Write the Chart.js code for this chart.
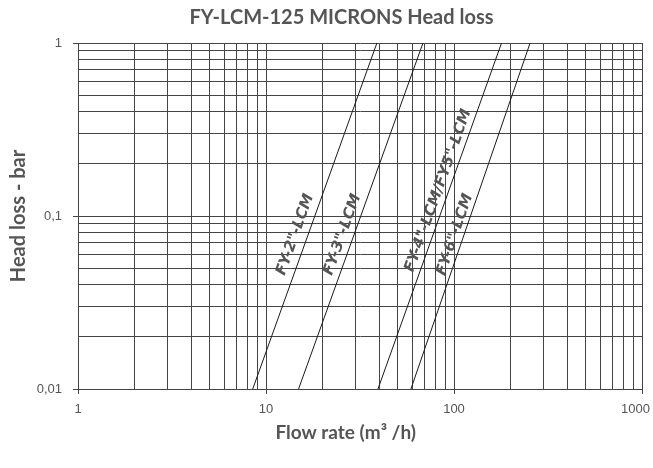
<!DOCTYPE html>
<html>
<head>
<meta charset="utf-8">
<script src="https://cdn.jsdelivr.net/npm/chart.js@4"></script>
<style>
  html, body { margin: 0; padding: 0; background: #fff; }
  #wrap { width: 653px; height: 468px; }
</style>
</head>
<body>
<div id="wrap"><canvas id="myChart" width="653" height="468"></canvas></div>
<script>
// flow rate (m3/h) at 0.01 bar and at 1 bar
var seriesNames = ['FY-2"-LCM', 'FY-3"-LCM', 'FY-4"-LCM/FY5"-LCM', 'FY-6"-LCM'];
var flowLow  = [8.5, 14.9, 39.4, 59.0];
var flowHigh = [38.9, 68.4, 179, 254];
var lossLow  = 0.01;
var lossHigh = 1;

// where each curve name sits (data units)
var labelFlow = [14.3, 25.5, 82.5, 101];
var labelLoss = [0.078, 0.078, 0.140, 0.078];

// grid lines and tick labels
var xGrid = [1, 2, 3, 4, 5, 6, 7, 8, 9, 10, 20, 30, 40, 50, 60, 70, 80, 90,
             100, 200, 300, 400, 500, 600, 700, 800, 900, 1000];
var yGrid = [0.01, 0.02, 0.03, 0.04, 0.05, 0.06, 0.07, 0.08, 0.09,
             0.1, 0.2, 0.3, 0.4, 0.5, 0.6, 0.7, 0.8, 0.9, 1];
var xTickValues = [1, 10, 100, 1000];
var xTickLabels = ['1', '10', '100', '1000\u2002\u2002'];
var yTickValues = [0.01, 0.1, 1];
var yTickLabels = ['0,01', '0,1', '1'];

var gridColor = '#444';
var textColor = '#555';

function labelFor(values, labels, v) {
  for (var i = 0; i < values.length; i++) {
    if (Math.abs(values[i] - v) < values[i] * 1e-6) return labels[i];
  }
  return '';
}

var datasets = seriesNames.map(function (name, i) {
  return {
    label: name,
    data: [{x: flowLow[i], y: lossLow}, {x: flowHigh[i], y: lossHigh}],
    showLine: true,
    borderColor: '#1a1a1a',
    borderWidth: 1,
    pointRadius: 0,
    fill: false
  };
});

// names written along the curves
var curveLabels = {
  id: 'curveLabels',
  afterDatasetsDraw: function (chart) {
    var ctx = chart.ctx;
    var xs = chart.scales.x, ys = chart.scales.y;
    ctx.save();
    ctx.fillStyle = textColor;
    ctx.font = 'italic bold 15px "DejaVu Sans"';
    ctx.textAlign = 'center';
    ctx.textBaseline = 'middle';
    for (var i = 0; i < seriesNames.length; i++) {
      var x0 = xs.getPixelForValue(flowLow[i]), y0 = ys.getPixelForValue(lossLow);
      var x1 = xs.getPixelForValue(flowHigh[i]), y1 = ys.getPixelForValue(lossHigh);
      var ang = Math.atan2(y1 - y0, x1 - x0);
      ctx.save();
      ctx.translate(xs.getPixelForValue(labelFlow[i]), ys.getPixelForValue(labelLoss[i]));
      ctx.rotate(ang);
      ctx.fillText(seriesNames[i], 0, 0);
      ctx.restore();
    }
    ctx.restore();
  }
};

var ctx = document.getElementById('myChart').getContext('2d');
var chart = new Chart(ctx, {
  type: 'scatter',
  data: { datasets: datasets },
  options: {
    responsive: false,
    animation: false,
    devicePixelRatio: 1,
    layout: { padding: 0 },
    plugins: {
      legend: { display: false },
      tooltip: { enabled: false },
      title: {
        display: true,
        text: '\u2002\u2002\u2002FY-LCM-125 MICRONS Head loss',
        color: textColor,
        font: { family: 'Lato', size: 20, weight: 'bold' },
        padding: { top: 6, bottom: 13 }
      }
    },
    scales: {
      x: {
        type: 'logarithmic',
        min: 1,
        max: 1000,
        afterBuildTicks: function (scale) {
          scale.ticks = xGrid.map(function (v) { return {value: v}; });
        },
        afterFit: function (scale) {
          scale.height = 79;
          scale.paddingRight = 11;
          scale.paddingLeft = 0;
        },
        ticks: {
          autoSkip: false,
          maxRotation: 0,
          padding: 8,
          color: textColor,
          font: { family: 'Liberation Sans', size: 13 },
          callback: function (v) { return labelFor(xTickValues, xTickLabels, v); }
        },
        grid: {
          color: gridColor,
          lineWidth: 1,
          tickLength: 5,
          tickColor: function (c) {
            return labelFor(xTickValues, xTickLabels, c.tick.value) ? gridColor : 'rgba(0,0,0,0)';
          }
        },
        border: { color: gridColor },
        title: {
          display: true,
          text: 'Flow rate (m³ /h)\u2002\u2002\u2002',
          color: textColor,
          font: { family: 'Lato', size: 19, weight: 'bold' },
          padding: { top: 0, bottom: 24 }
        }
      },
      y: {
        type: 'logarithmic',
        min: 0.01,
        max: 1,
        afterBuildTicks: function (scale) {
          scale.ticks = yGrid.map(function (v) { return {value: v}; });
        },
        afterFit: function (scale) { scale.width = 78; },
        ticks: {
          autoSkip: false,
          padding: 11,
          color: textColor,
          font: { family: 'Liberation Sans', size: 13 },
          callback: function (v) { return labelFor(yTickValues, yTickLabels, v); }
        },
        grid: {
          color: gridColor,
          lineWidth: 1,
          tickLength: 5,
          tickColor: function (c) {
            return labelFor(yTickValues, yTickLabels, c.tick.value) ? gridColor : 'rgba(0,0,0,0)';
          }
        },
        border: { color: gridColor },
        title: {
          display: true,
          text: 'Head loss - bar',
          color: textColor,
          font: { family: 'Lato', size: 20, weight: 'bold' },
          padding: { top: 7, bottom: 0 }
        }
      }
    }
  },
  plugins: [curveLabels]
});
</script>
</body>
</html>
